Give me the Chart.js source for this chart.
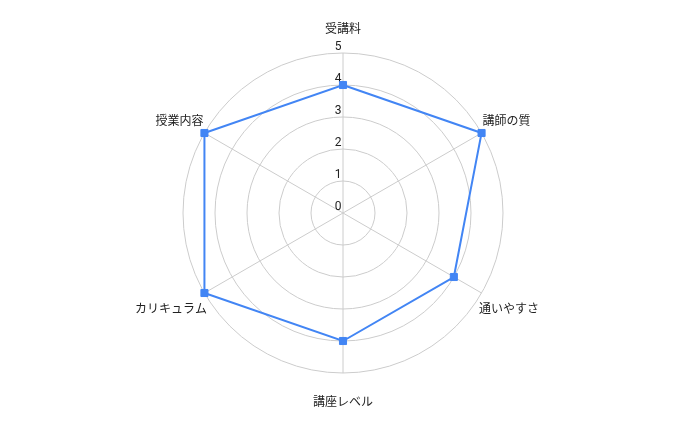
<!DOCTYPE html>
<html lang="ja">
<head>
<meta charset="utf-8">
<title>講座評価</title>
<script src="https://cdn.jsdelivr.net/npm/chart.js@4"></script>
<style>
  html, body { margin: 0; padding: 0; background: #fff; }
  #wrap { width: 688px; height: 425px; position: relative; }
</style>
</head>
<body>
<div id="wrap"><canvas id="radarChart"></canvas></div>
<script>
// 評価項目と点数
const categories = ['受講料', '講師の質', '通いやすさ', '講座レベル', 'カリキュラム', '授業内容'];
const scores = [4, 5, 4, 4, 5, 5];
const tickValues = [0, 1, 2, 3, 4, 5];

const fontFamily = "Roboto, 'Noto Sans CJK JP', sans-serif";

// 目盛りの数字を軸の少し左上に描く（0 も表示する）
const tickLabelPlugin = {
    id: 'tickLabels',
    beforeDatasetsDraw(chart) {
        const scale = chart.scales.r;
        const ctx = chart.ctx;
        ctx.save();
        ctx.font = '12px ' + fontFamily;
        ctx.fillStyle = '#222';
        ctx.textAlign = 'center';
        ctx.textBaseline = 'alphabetic';
        tickValues.forEach(v => {
            const d = scale.getDistanceFromCenterForValue(v);
            ctx.fillText(String(v), scale.xCenter - 5, scale.yCenter - d - 3);
        });
        ctx.restore();
    }
};

// 項目名の位置調整：横方向は点の近く、縦方向は行の高さで少し離す
const labelPadding = [11.5, 1, -3, 18, -3, 1];
const labelLineHeight = [2, 1.7, 3, 2, 3, 1.7];

new Chart(document.getElementById('radarChart'), {
    type: 'radar',
    data: {
        labels: categories,
        datasets: [{
            label: '評価',
            data: scores,
            borderColor: '#4285F4',
            backgroundColor: '#4285F4',
            borderWidth: 2,
            fill: false,
            pointStyle: 'rect',
            pointRadius: 5,
            pointHoverRadius: 5,
            pointBorderWidth: 1,
            pointBackgroundColor: '#4285F4',
            pointBorderColor: '#4285F4'
        }]
    },
    options: {
        responsive: true,
        maintainAspectRatio: false,
        animation: false,
        layout: {
            padding: { top: 15, bottom: 6, left: 0, right: 1 }
        },
        plugins: {
            legend: { display: false },
            tooltip: { enabled: false }
        },
        scales: {
            r: {
                min: 0,
                max: 5,
                ticks: { display: false, stepSize: 1 },
                grid: { circular: true, color: '#cccccc', lineWidth: 1 },
                angleLines: { color: '#cccccc', lineWidth: 1 },
                pointLabels: {
                    color: '#222',
                    font: ctx => ({ size: 12, family: fontFamily, lineHeight: labelLineHeight[ctx.index] }),
                    padding: ctx => labelPadding[ctx.index]
                }
            }
        }
    },
    plugins: [tickLabelPlugin]
});
</script>
</body>
</html>
